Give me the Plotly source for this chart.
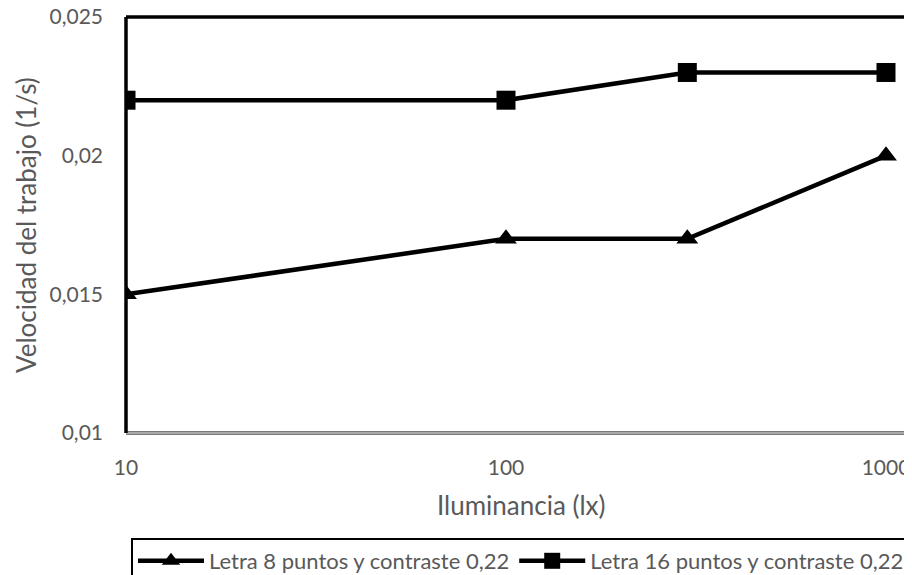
import plotly.graph_objects as go

iluminancia = [10, 100, 300, 1000]
letra8 = [0.015, 0.017, 0.017, 0.020]
letra16 = [0.022, 0.022, 0.023, 0.023]
nombres = ["Letra 8 puntos y contraste 0,22", "Letra 16 puntos y contraste 0,22"]
y_ticks = [0.01, 0.015, 0.02, 0.025]
y_labels = ["0,01", "0,015", "0,02", "0,025"]
x_ticks = [10, 100, 1000]
x_labels = ["10", "100", "1000"]

FONT = "Lato, 'Open Sans', sans-serif"
GRAY = "#595959"
OFF = 8  # page body margin offset

fig = go.Figure()
fig.add_trace(go.Scatter(x=iluminancia, y=letra8, name=nombres[0], mode="lines+markers",
                         line=dict(color="black", width=4.5),
                         marker=dict(symbol="triangle-up", size=19, color="black")))
fig.add_trace(go.Scatter(x=iluminancia, y=letra16, name=nombres[1], mode="lines+markers",
                         line=dict(color="black", width=4.5),
                         marker=dict(symbol="square", size=19, color="black")))

fig.update_layout(
    width=912, height=575,
    margin=dict(l=126 - OFF, r=0, t=17 - OFF, b=575 - (433 - OFF)),
    paper_bgcolor="white", plot_bgcolor="white",
    font=dict(family=FONT, color=GRAY, size=21),
    xaxis=dict(type="log", range=[1, 1 + (912 + OFF - 126) / 380], tickvals=x_ticks, ticktext=x_labels,
               showgrid=False, zeroline=False, showline=False, automargin=False,
               ticklabeloverflow="allow",
               ticks="", ticklabelstandoff=20, tickfont=dict(size=21, color=GRAY)),
    yaxis=dict(range=[0.01, 0.025], tickvals=y_ticks, ticktext=y_labels,
               showgrid=False, zeroline=False, showline=False, automargin=False,
               ticklabeloverflow="allow",
               ticks="", ticklabelstandoff=22, tickfont=dict(size=21, color=GRAY)),
    legend=dict(orientation="h", xref="container", yref="container",
                x=(131 - OFF) / 912, y=1 - (538 - OFF) / 575, xanchor="left", yanchor="top",
                bordercolor="black", borderwidth=2, font=dict(size=22, color=GRAY),
                itemwidth=66, traceorder="normal"),
    showlegend=True,
    annotations=[
        dict(text="Iluminancia (lx)", xref="paper", yref="paper", x=0.4975, y=-0.173,
             xanchor="center", yanchor="middle", showarrow=False,
             font=dict(size=26, color=GRAY)),
        dict(text="Velocidad del trabajo (1/s)", xref="paper", yref="paper", x=-0.126, y=0.5,
             xanchor="center", yanchor="middle", showarrow=False, textangle=-90,
             font=dict(size=26, color=GRAY)),
    ],
)
# bottom axis: double gray line
fig.add_shape(type="line", xref="paper", yref="paper", x0=0, x1=1, y0=0, y1=0,
              line=dict(color="#7a7a7a", width=4), layer="below")
fig.add_shape(type="line", xref="paper", yref="paper", x0=0, x1=1, y0=0, y1=0,
              line=dict(color="#d9d9d9", width=1.2), layer="below")
# left and top borders: black
fig.add_shape(type="line", xref="paper", yref="paper", x0=0, x1=0, y0=0, y1=1,
              line=dict(color="black", width=3.5), layer="below")
fig.add_shape(type="line", xref="paper", yref="paper", x0=0, x1=1, y0=1, y1=1,
              line=dict(color="black", width=3.5), layer="below")

fig.write_html("out.html")
